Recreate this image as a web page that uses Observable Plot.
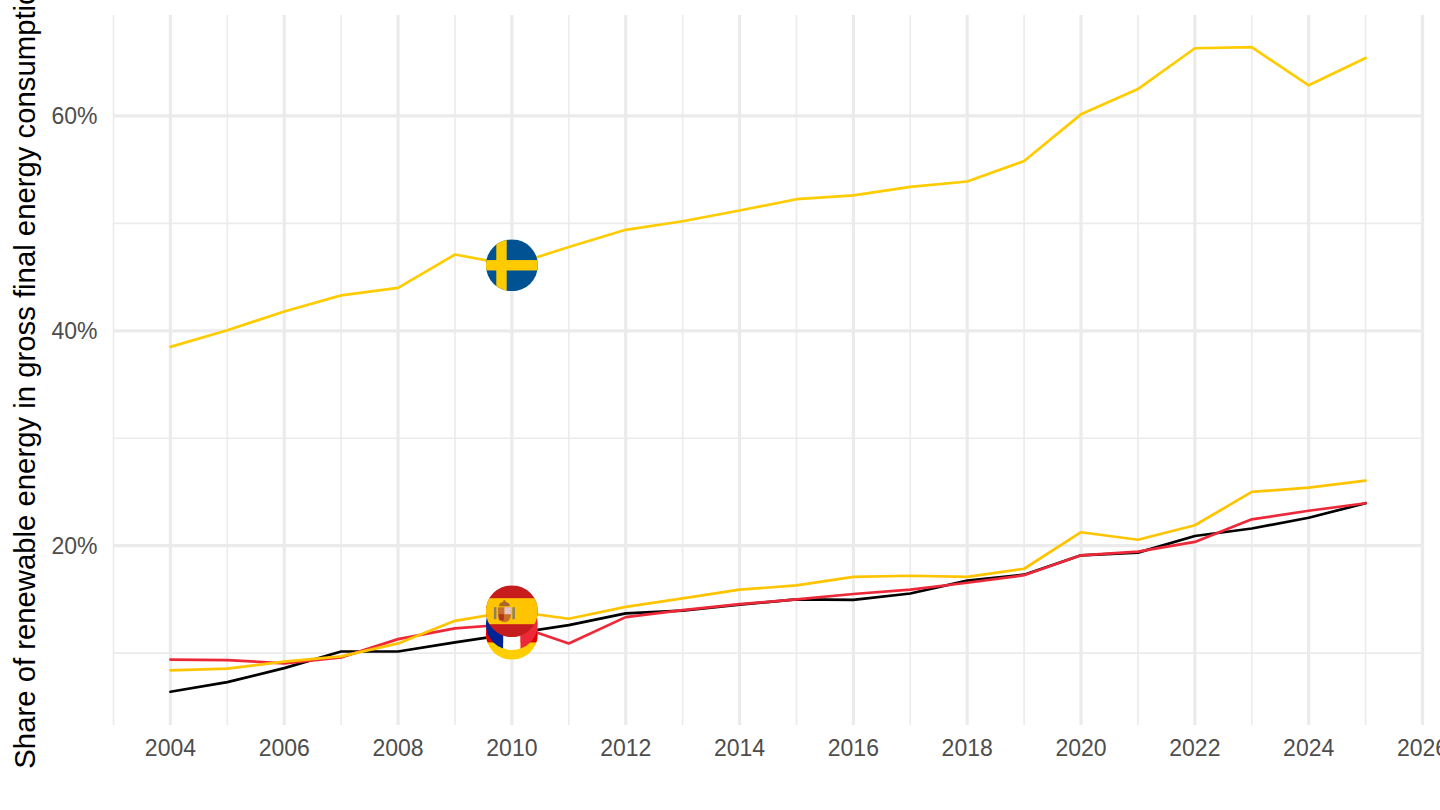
<!DOCTYPE html>
<html>
<head>
<meta charset="utf-8">
<style>html,body{margin:0;padding:0;background:#fff;overflow:hidden}svg{display:block}</style>
<script src="https://cdn.jsdelivr.net/npm/d3@7"></script>
<script src="https://cdn.jsdelivr.net/npm/@observablehq/plot@0.6"></script>
</head>
<body>
<div id="chart"></div>
<script>
const years = [2004,2005,2006,2007,2008,2009,2010,2011,2012,2013,2014,2015,2016,2017,2018,2019,2020,2021,2022,2023,2024,2025];
const sweden  = [38.5,40.05,41.8,43.3,44.0,47.1,46.1,47.8,49.4,50.2,51.2,52.25,52.6,53.4,53.9,55.8,60.15,62.5,66.3,66.4,62.85,65.4];
const spain   = [8.4,8.55,9.2,9.7,10.9,13.0,13.9,13.2,14.3,15.1,15.9,16.3,17.1,17.2,17.1,17.85,21.25,20.55,21.9,25.0,25.4,26.05];
const germany = [6.4,7.3,8.6,10.15,10.15,11.0,11.8,12.6,13.7,13.95,14.5,15.0,14.95,15.55,16.75,17.3,19.1,19.35,20.9,21.6,22.6,23.95];
const france  = [9.4,9.35,9.05,9.6,11.3,12.3,12.7,10.9,13.35,14.0,14.55,15.0,15.5,15.9,16.55,17.25,19.1,19.45,20.35,22.45,23.25,23.95];
const countries = ["Germany","France","Spain","Sweden"];
const seriesValues = {Germany:germany,France:france,Spain:spain,Sweden:sweden};
const lineColors = ["#000000","#ed2939","#ffc400","#fecc00"];
const flagYear = 2010;
const xMajor = [2004,2006,2008,2010,2012,2014,2016,2018,2020,2022,2024,2026];
const xMinor = [2003,2005,2007,2009,2011,2013,2015,2017,2019,2021,2023,2025];
const yMajor = [20,40,60];
const yMinor = [10,30,50];
const yTitle = "Share of renewable energy in gross final energy consumption";

const svgUri = s => "data:image/svg+xml;charset=utf-8," + encodeURIComponent(s);
const flags = {
  Germany: svgUri(`<svg xmlns="http://www.w3.org/2000/svg" viewBox="0 0 3 3" width="300" height="300"><rect width="3" height="3" fill="#ffce00"/><rect width="3" height="2" fill="#dd0000"/><rect width="3" height="1" fill="#000"/></svg>`),
  France: svgUri(`<svg xmlns="http://www.w3.org/2000/svg" viewBox="0 0 3 3" width="300" height="300"><rect width="1" height="3" fill="#002395"/><rect x="1" width="1" height="3" fill="#fff"/><rect x="2" width="1" height="3" fill="#ed2939"/></svg>`),
  Spain: svgUri(`<svg xmlns="http://www.w3.org/2000/svg" viewBox="0 0 52 52" width="312" height="312"><rect width="52" height="52" fill="#c61c1e"/><rect y="13" width="52" height="26" fill="#ffc400"/><rect x="8" y="22" width="2.500" height="12" fill="#8a8068"/><rect x="26.500" y="22" width="2.500" height="12" fill="#8a8068"/><path d="M12 22h13v8a6.500 7 0 0 1-13 0z" fill="#c8702a"/><rect x="18.500" y="22" width="6.500" height="7" fill="#e6c4c4"/><rect x="13" y="29" width="5" height="6" fill="#b5311c"/><path d="M13 21c0-6 11-6 11 0z" fill="#a8682a"/><rect x="17.500" y="15" width="2" height="2" fill="#a8682a"/></svg>`),
  Sweden: svgUri(`<svg xmlns="http://www.w3.org/2000/svg" viewBox="3 0 10 10" width="300" height="300"><rect x="0" width="16" height="10" fill="#005293"/><rect x="5" width="2" height="10" fill="#fecb00"/><rect y="4" width="16" height="2" fill="#fecb00"/></svg>`)
};

const rows = countries.flatMap(c => years.map((y,i) => ({country:c, year:y, value:seriesValues[c][i]})));
const flagRows = rows.filter(d => d.year === flagYear).map(d => ({...d, src:flags[d.country]}));

const plot = Plot.plot({
  width:1440, height:810,
  marginLeft:113, marginRight:18, marginTop:15, marginBottom:85,
  style:{fontFamily:"'Liberation Sans',Arial,sans-serif", background:"#fff", overflow:"hidden"},
  x:{domain:[2003,2026], label:null},
  y:{domain:[3.26,69.35], label:null},
  color:{domain:countries, range:lineColors},
  marks:[
    Plot.ruleX(xMinor,{stroke:"#ebebeb",strokeWidth:1.6}),
    Plot.ruleY(yMinor,{stroke:"#ebebeb",strokeWidth:1.6}),
    Plot.ruleX(xMajor,{stroke:"#ebebeb",strokeWidth:3.2}),
    Plot.ruleY(yMajor,{stroke:"#ebebeb",strokeWidth:3.2}),
    Plot.axisX({ticks:xMajor,tickSize:0,tickPadding:14,tickFormat:d=>String(d),fontSize:23,color:"#4d4d4d",label:null}),
    Plot.axisY({ticks:yMajor,tickSize:0,tickPadding:16,dy:1,tickFormat:d=>d+"%",fontSize:23,color:"#4d4d4d",label:null}),
    Plot.line(rows,{x:"year",y:"value",z:"country",stroke:"country",strokeWidth:2.7,curve:"linear",strokeLinejoin:"round"}),
    Plot.image(flagRows,{x:"year",y:"value",src:"src",r:26}),
    Plot.text([yTitle],{frameAnchor:"left",dx:-87.5,rotate:-90,textAnchor:"middle",fontSize:29.3,fill:"#000"})
  ]
});
document.getElementById("chart").append(plot);
</script>
</body>
</html>
